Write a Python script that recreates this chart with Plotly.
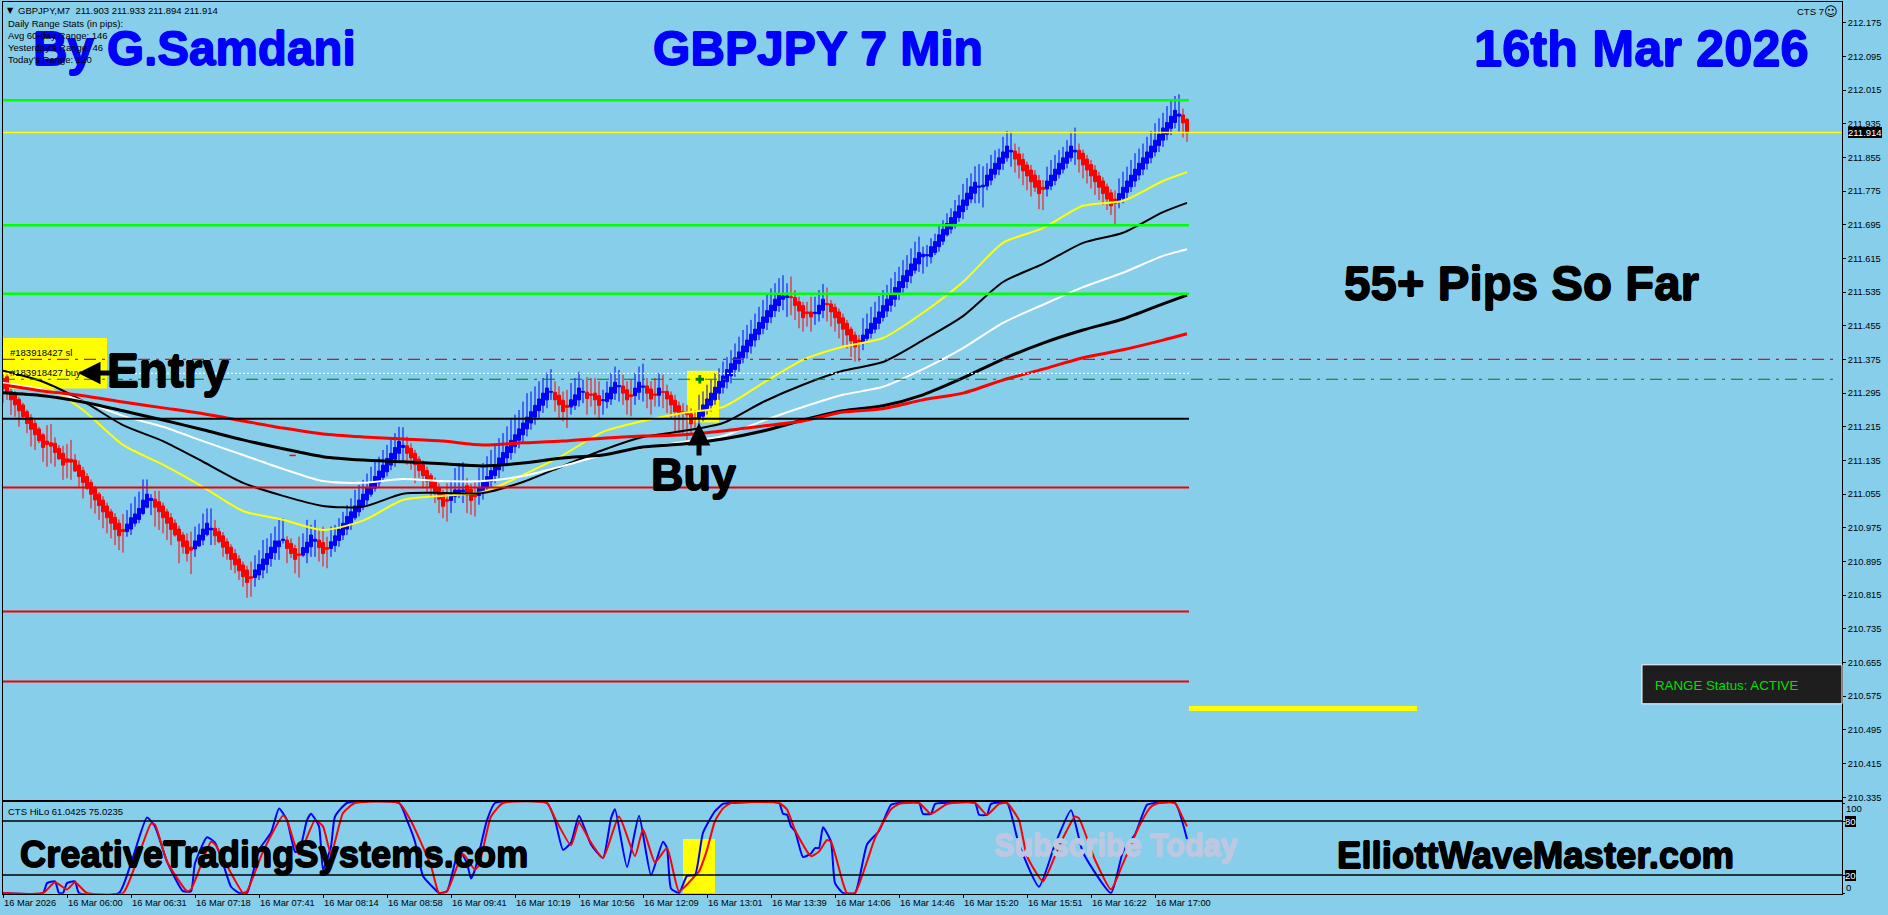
import plotly.graph_objects as go

W, H = 1888, 915

bar_open = [
    211.330, 211.334, 211.299, 211.295, 211.280, 211.267, 211.251, 211.237, 211.223, 211.210,
    211.196, 211.181, 211.177, 211.176, 211.164, 211.152, 211.139, 211.138, 211.136, 211.124,
    211.111, 211.097, 211.083, 211.069, 211.055, 211.041, 211.027, 211.013, 211.000, 210.986,
    210.971, 210.966, 210.972, 210.986, 210.995, 211.009, 211.024, 211.040, 211.043, 211.037,
    211.027, 211.013, 210.999, 210.986, 210.972, 210.958, 210.944, 210.929, 210.925, 210.932,
    210.946, 210.959, 210.970, 210.974, 210.966, 210.956, 210.942, 210.929, 210.914, 210.901,
    210.887, 210.875, 210.859, 210.857, 210.863, 210.875, 210.888, 210.902, 210.916, 210.930,
    210.945, 210.946, 210.938, 210.926, 210.913, 210.910, 210.916, 210.930, 210.943, 210.946,
    210.940, 210.928, 210.926, 210.933, 210.945, 210.958, 210.972, 210.986, 210.999, 211.013,
    211.027, 211.041, 211.055, 211.069, 211.082, 211.095, 211.108, 211.124, 211.138, 211.152,
    211.166, 211.170, 211.164, 211.152, 211.138, 211.125, 211.111, 211.099, 211.085, 211.071,
    211.057, 211.042, 211.040, 211.050, 211.053, 211.061, 211.075, 211.067, 211.055, 211.052,
    211.059, 211.072, 211.085, 211.099, 211.113, 211.127, 211.141, 211.154, 211.168, 211.183,
    211.196, 211.210, 211.224, 211.238, 211.253, 211.266, 211.279, 211.297, 211.297, 211.290,
    211.278, 211.266, 211.262, 211.266, 211.279, 211.297, 211.297, 211.293, 211.295, 211.289,
    211.277, 211.275, 211.281, 211.295, 211.310, 211.312, 211.303, 211.291, 211.289, 211.297,
    211.309, 211.312, 211.305, 211.293, 211.290, 211.299, 211.299, 211.290, 211.278, 211.265,
    211.251, 211.251, 211.246, 211.237, 211.236, 211.240, 211.254, 211.266, 211.279, 211.295,
    211.309, 211.322, 211.336, 211.351, 211.365, 211.379, 211.393, 211.407, 211.421, 211.435,
    211.449, 211.463, 211.476, 211.491, 211.503, 211.518, 211.522, 211.524, 211.522, 211.512,
    211.503, 211.488, 211.488, 211.484, 211.483, 211.492, 211.508, 211.507, 211.499, 211.488,
    211.474, 211.461, 211.447, 211.433, 211.421, 211.415, 211.425, 211.437, 211.447, 211.461,
    211.475, 211.490, 211.504, 211.518, 211.532, 211.546, 211.560, 211.574, 211.587, 211.602,
    211.619, 211.621, 211.619, 211.629, 211.643, 211.656, 211.671, 211.685, 211.698, 211.712,
    211.726, 211.741, 211.756, 211.770, 211.784, 211.785, 211.787, 211.801, 211.815, 211.827,
    211.841, 211.854, 211.868, 211.870, 211.863, 211.850, 211.837, 211.825, 211.813, 211.800,
    211.784, 211.780, 211.787, 211.800, 211.815, 211.827, 211.841, 211.854, 211.868, 211.872,
    211.865, 211.851, 211.838, 211.825, 211.811, 211.799, 211.785, 211.771, 211.756, 211.751,
    211.758, 211.772, 211.785, 211.799, 211.813, 211.827, 211.841, 211.854, 211.868, 211.883,
    211.896, 211.910, 211.924, 211.938, 211.953, 211.956, 211.945,
]
bar_close = [
    211.305, 211.295, 211.279, 211.267, 211.253, 211.239, 211.223, 211.209, 211.196, 211.182,
    211.166, 211.173, 211.169, 211.154, 211.139, 211.124, 211.131, 211.131, 211.110, 211.097,
    211.083, 211.069, 211.055, 211.041, 211.028, 211.013, 210.999, 210.986, 210.971, 210.956,
    210.966, 210.984, 210.999, 211.008, 211.021, 211.041, 211.055, 211.045, 211.024, 211.013,
    210.999, 210.986, 210.971, 210.958, 210.944, 210.930, 210.914, 210.922, 210.944, 210.958,
    210.972, 210.986, 210.974, 210.956, 210.942, 210.929, 210.914, 210.900, 210.887, 210.873,
    210.859, 210.845, 210.855, 210.875, 210.888, 210.901, 210.914, 210.929, 210.944, 210.944,
    210.948, 210.926, 210.914, 210.900, 210.910, 210.928, 210.941, 210.958, 210.948, 210.928,
    210.914, 210.924, 210.942, 210.956, 210.971, 210.986, 211.002, 211.013, 211.027, 211.041,
    211.055, 211.069, 211.082, 211.097, 211.110, 211.124, 211.140, 211.152, 211.166, 211.180,
    211.171, 211.152, 211.141, 211.125, 211.111, 211.099, 211.085, 211.071, 211.057, 211.043,
    211.026, 211.038, 211.053, 211.065, 211.065, 211.065, 211.053, 211.040, 211.049, 211.069,
    211.083, 211.097, 211.111, 211.125, 211.141, 211.154, 211.168, 211.183, 211.196, 211.210,
    211.224, 211.238, 211.251, 211.266, 211.281, 211.295, 211.307, 211.299, 211.279, 211.267,
    211.251, 211.261, 211.279, 211.291, 211.307, 211.299, 211.282, 211.290, 211.279, 211.266,
    211.279, 211.295, 211.309, 211.321, 211.313, 211.295, 211.279, 211.287, 211.307, 211.321,
    211.312, 211.295, 211.281, 211.290, 211.307, 211.297, 211.281, 211.267, 211.251, 211.249,
    211.248, 211.244, 211.222, 211.234, 211.253, 211.267, 211.281, 211.295, 211.309, 211.323,
    211.336, 211.351, 211.365, 211.379, 211.393, 211.407, 211.421, 211.435, 211.447, 211.463,
    211.476, 211.491, 211.504, 211.518, 211.530, 211.526, 211.526, 211.522, 211.503, 211.490,
    211.474, 211.484, 211.476, 211.487, 211.504, 211.518, 211.505, 211.488, 211.474, 211.461,
    211.447, 211.433, 211.419, 211.405, 211.416, 211.433, 211.447, 211.461, 211.474, 211.488,
    211.503, 211.518, 211.532, 211.546, 211.560, 211.574, 211.587, 211.602, 211.615, 211.629,
    211.625, 211.624, 211.643, 211.655, 211.671, 211.684, 211.698, 211.712, 211.726, 211.740,
    211.754, 211.770, 211.785, 211.796, 211.787, 211.789, 211.813, 211.827, 211.841, 211.854,
    211.868, 211.882, 211.872, 211.851, 211.837, 211.823, 211.811, 211.797, 211.784, 211.769,
    211.779, 211.799, 211.813, 211.827, 211.841, 211.854, 211.868, 211.882, 211.872, 211.851,
    211.837, 211.825, 211.811, 211.797, 211.784, 211.769, 211.756, 211.740, 211.746, 211.769,
    211.784, 211.799, 211.813, 211.827, 211.841, 211.854, 211.868, 211.882, 211.896, 211.910,
    211.925, 211.938, 211.953, 211.967, 211.958, 211.937, 211.914,
]
bar_high = [
    211.340, 211.340, 211.305, 211.300, 211.285, 211.272, 211.256, 211.245, 211.232, 211.215,
    211.200, 211.219, 211.222, 211.190, 211.172, 211.170, 211.174, 211.184, 211.150, 211.135,
    211.120, 211.105, 211.090, 211.075, 211.060, 211.050, 211.035, 211.020, 211.010, 210.995,
    211.008, 211.017, 211.033, 211.049, 211.061, 211.090, 211.090, 211.055, 211.063, 211.063,
    211.035, 211.020, 211.010, 210.995, 210.980, 210.965, 210.962, 210.966, 210.978, 210.985,
    211.009, 211.021, 211.021, 210.994, 210.975, 210.965, 210.950, 210.936, 210.925, 210.910,
    210.895, 210.885, 210.895, 210.910, 210.922, 210.946, 210.950, 210.962, 210.978, 210.998,
    210.998, 210.955, 210.950, 210.935, 210.954, 210.962, 210.994, 210.982, 210.994, 210.970,
    210.978, 210.954, 210.978, 210.982, 210.998, 211.013, 211.029, 211.045, 211.065, 211.077,
    211.089, 211.104, 211.120, 211.136, 211.144, 211.160, 211.172, 211.188, 211.200, 211.215,
    211.214, 211.192, 211.176, 211.160, 211.145, 211.135, 211.120, 211.105, 211.095, 211.080,
    211.065, 211.081, 211.089, 211.117, 211.129, 211.131, 211.093, 211.080, 211.085, 211.117,
    211.129, 211.145, 211.160, 211.172, 211.188, 211.200, 211.216, 211.232, 211.244, 211.255,
    211.275, 211.295, 211.299, 211.311, 211.323, 211.331, 211.344, 211.352, 211.323, 211.311,
    211.299, 211.303, 211.319, 211.331, 211.346, 211.327, 211.333, 211.331, 211.331, 211.323,
    211.303, 211.323, 211.343, 211.358, 211.350, 211.339, 211.323, 211.327, 211.343, 211.358,
    211.365, 211.331, 211.323, 211.331, 211.343, 211.339, 211.315, 211.299, 211.291, 211.275,
    211.271, 211.267, 211.259, 211.255, 211.291, 211.299, 211.315, 211.327, 211.343, 211.354,
    211.370, 211.381, 211.397, 211.413, 211.429, 211.445, 211.457, 211.469, 211.484, 211.500,
    211.516, 211.528, 211.544, 211.556, 211.568, 211.575, 211.556, 211.572, 211.540, 211.524,
    211.512, 211.512, 211.524, 211.524, 211.540, 211.554, 211.546, 211.516, 211.508, 211.496,
    211.484, 211.469, 211.453, 211.441, 211.433, 211.473, 211.484, 211.500, 211.512, 211.526,
    211.540, 211.552, 211.568, 211.583, 211.595, 211.611, 211.623, 211.639, 211.655, 211.667,
    211.643, 211.647, 211.663, 211.674, 211.694, 211.706, 211.722, 211.734, 211.754, 211.766,
    211.792, 211.806, 211.817, 211.834, 211.839, 211.834, 211.841, 211.861, 211.872, 211.876,
    211.904, 211.918, 211.916, 211.888, 211.880, 211.865, 211.845, 211.837, 211.825, 211.813,
    211.801, 211.833, 211.849, 211.861, 211.872, 211.880, 211.896, 211.916, 211.926, 211.888,
    211.874, 211.861, 211.849, 211.837, 211.821, 211.808, 211.793, 211.779, 211.777, 211.805,
    211.821, 211.833, 211.849, 211.865, 211.876, 211.888, 211.904, 211.918, 211.936, 211.948,
    211.961, 211.977, 211.991, 212.001, 212.005, 211.971, 211.949,
]
bar_low = [
    211.272, 211.279, 211.243, 211.239, 211.215, 211.231, 211.200, 211.168, 211.160, 211.176,
    211.132, 211.120, 211.128, 211.120, 211.136, 211.089, 211.093, 211.089, 211.108, 211.069,
    211.045, 211.065, 211.021, 211.009, 210.994, 210.974, 210.962, 210.950, 210.934, 210.922,
    210.916, 210.954, 210.958, 210.978, 210.986, 211.005, 211.021, 211.005, 210.978, 210.970,
    210.962, 210.946, 210.934, 210.954, 210.891, 210.914, 210.895, 210.865, 210.906, 210.930,
    210.934, 210.955, 210.934, 210.934, 210.938, 210.906, 210.899, 210.875, 210.867, 210.851,
    210.835, 210.809, 210.811, 210.835, 210.851, 210.855, 210.867, 210.883, 210.899, 210.899,
    210.938, 210.891, 210.903, 210.867, 210.857, 210.906, 210.891, 210.906, 210.906, 210.895,
    210.883, 210.879, 210.906, 210.918, 210.930, 210.946, 210.958, 210.970, 210.994, 211.002,
    211.017, 211.029, 211.049, 211.061, 211.069, 211.085, 211.097, 211.112, 211.120, 211.136,
    211.133, 211.125, 211.113, 211.081, 211.093, 211.069, 211.057, 211.046, 211.034, 211.010,
    210.998, 210.990, 211.010, 211.034, 211.046, 211.034, 211.010, 211.006, 211.002, 211.030,
    211.042, 211.057, 211.065, 211.081, 211.093, 211.109, 211.121, 211.137, 211.152, 211.164,
    211.176, 211.192, 211.208, 211.220, 211.236, 211.248, 211.259, 211.279, 211.251, 211.232,
    211.228, 211.212, 211.244, 211.255, 211.263, 211.271, 211.244, 211.263, 211.244, 211.232,
    211.244, 211.259, 211.267, 211.279, 211.275, 211.267, 211.244, 211.240, 211.267, 211.279,
    211.275, 211.259, 211.244, 211.263, 211.263, 211.259, 211.248, 211.236, 211.204, 211.200,
    211.200, 211.176, 211.200, 211.208, 211.212, 211.228, 211.244, 211.251, 211.267, 211.279,
    211.294, 211.306, 211.318, 211.334, 211.346, 211.366, 211.377, 211.389, 211.405, 211.421,
    211.435, 211.445, 211.461, 211.476, 211.488, 211.492, 211.476, 211.480, 211.469, 211.449,
    211.441, 211.453, 211.441, 211.457, 211.465, 211.473, 211.465, 211.453, 211.441, 211.425,
    211.409, 211.401, 211.381, 211.370, 211.370, 211.397, 211.413, 211.425, 211.437, 211.447,
    211.465, 211.476, 211.488, 211.500, 211.516, 211.528, 211.544, 211.556, 211.579, 211.583,
    211.579, 211.595, 211.603, 211.623, 211.631, 211.647, 211.667, 211.674, 211.686, 211.702,
    211.708, 211.730, 211.746, 211.746, 211.746, 211.736, 211.777, 211.789, 211.805, 211.813,
    211.825, 211.845, 211.833, 211.819, 211.805, 211.789, 211.777, 211.762, 211.773, 211.732,
    211.730, 211.762, 211.777, 211.789, 211.805, 211.817, 211.829, 211.845, 211.837, 211.819,
    211.805, 211.793, 211.781, 211.766, 211.754, 211.742, 211.730, 211.718, 211.697, 211.734,
    211.746, 211.758, 211.773, 211.785, 211.801, 211.813, 211.826, 211.841, 211.857, 211.868,
    211.880, 211.896, 211.908, 211.924, 211.916, 211.902, 211.892,
]

# moving averages, read every 10 bars
ma_index = [0, 10, 20, 30, 40, 50, 60, 70, 80, 90, 100, 110, 120, 130, 140, 150, 160, 170, 180, 190,
            200, 210, 220, 230, 240, 250, 260, 270, 280, 290, 296]
ma_yellow = [211.345, 211.315, 211.255, 211.172, 211.125, 211.072, 211.015, 210.994, 210.970, 210.992,
             211.041, 211.051, 211.060, 211.101, 211.148, 211.203, 211.229, 211.248, 211.262, 211.319,
             211.374, 211.405, 211.426, 211.486, 211.559, 211.652, 211.687, 211.740, 211.752, 211.799, 211.820]
ma_black_thin = [211.348, 211.322, 211.276, 211.219, 211.181, 211.132, 211.082, 211.051, 211.027, 211.025,
                 211.056, 211.058, 211.058, 211.084, 211.122, 211.160, 211.191, 211.205, 211.224, 211.274,
                 211.315, 211.348, 211.369, 211.421, 211.478, 211.559, 211.602, 211.652, 211.676, 211.725, 211.747]
ma_white = [211.319, 211.303, 211.276, 211.241, 211.215, 211.181, 211.148, 211.115, 211.086, 211.082,
            211.091, 211.086, 211.086, 211.098, 211.122, 211.148, 211.165, 211.179, 211.193, 211.229,
            211.262, 211.291, 211.310, 211.352, 211.402, 211.462, 211.505, 211.547, 211.581, 211.621, 211.637]
ma_black_thick = [211.296, 211.289, 211.274, 211.253, 211.231, 211.208, 211.184, 211.163, 211.144, 211.136,
                  211.132, 211.127, 211.122, 211.129, 211.141, 211.148, 211.167, 211.174, 211.186, 211.205,
                  211.231, 211.253, 211.265, 211.291, 211.331, 211.376, 211.414, 211.445, 211.471, 211.507, 211.528]
ma_red = [211.315, 211.300, 211.289, 211.274, 211.260, 211.246, 211.229, 211.212, 211.198, 211.191,
          211.186, 211.181, 211.172, 211.177, 211.181, 211.188, 211.193, 211.196, 211.205, 211.217,
          211.229, 211.250, 211.258, 211.279, 211.295, 211.326, 211.352, 211.379, 211.398, 211.421, 211.436]

# CTS HiLo oscillator
hilo_blue_x = [0, 10, 11, 13, 14, 15, 16, 18, 19, 29, 32, 36, 38, 41, 45, 47, 48, 51, 53, 55, 57, 59, 61, 64, 67,
               69, 71, 73, 74, 76, 77, 79, 80, 82, 83, 86, 99, 101, 103, 105, 108, 109, 111, 114, 116, 117, 118,
               121, 123, 136, 138, 140, 142, 144, 147, 150, 152, 153, 156, 159, 162, 165, 166, 167, 169, 171, 173,
               175, 178, 180, 182, 194, 195, 196, 197, 198, 200, 202, 203, 204, 205, 207, 208, 210, 213, 216, 219,
               222, 224, 229, 230, 232, 233, 235, 243, 244, 246, 247, 251, 254, 259, 263, 267, 270, 277, 280, 283,
               286, 288, 293, 296]
hilo_blue = [0, 0, 11, 13, 0, 0, 11, 13, 0, 0, 33, 84, 74, 35, 2, 2, 33, 62, 56, 33, 7, 0, 0, 48, 67,
             94, 81, 46, 46, 81, 88, 74, 26, 52, 85, 100, 100, 81, 57, 19, 4, 0, 2, 48, 33, 16, 26,
             81, 100, 100, 81, 48, 56, 86, 54, 39, 83, 93, 29, 86, 20, 57, 50, 5, 0, 19, 20,
             67, 91, 99, 100, 100, 88, 87, 74, 69, 40, 44, 50, 50, 73, 57, 11, 0, 0, 54, 69,
             98, 100, 100, 88, 88, 99, 100, 100, 87, 87, 99, 100, 54, 7, 54, 92, 45, 0, 46, 65,
             98, 100, 100, 60]
hilo_red_x = [0, 10, 13, 16, 18, 21, 30, 33, 37, 38, 41, 46, 47, 52, 53, 60, 61, 65, 70, 71, 74, 78, 80, 82, 85,
              88, 99, 102, 107, 109, 111, 115, 118, 119, 122, 125, 136, 138, 142, 144, 147, 150, 154, 158, 160,
              163, 166, 169, 173, 174, 176, 178, 180, 182, 194, 196, 198, 202, 204, 206, 207, 210, 211, 213, 216,
              218, 222, 224, 229, 232, 236, 243, 246, 249, 251, 254, 256, 260, 264, 268, 269, 273, 277, 280, 284,
              287, 289, 293, 295, 296]
hilo_red = [0, 0, 12, 4, 12, 0, 0, 30, 77, 76, 35, 2, 4, 57, 54, 0, 2, 46, 86, 81, 43, 81, 74, 43, 89,
            100, 100, 80, 30, 0, 2, 43, 26, 31, 85, 100, 100, 83, 53, 78, 56, 39, 85, 41, 71,
            34, 50, 2, 19, 24, 48, 80, 94, 100, 100, 93, 70, 41, 46, 59, 57, 11, 0, 0, 35,
            61, 93, 99, 100, 88, 99, 100, 87, 99, 100, 81, 41, 13, 52, 85, 83, 37, 4, 33, 74,
            96, 100, 100, 83, 74]

# horizontal levels
green_levels = [211.991, 211.694, 211.531]
red_levels = [211.071, 210.776, 210.610]
black_level = 211.234
last_price = 211.914
sl_level = 211.375
buy_level = 211.328
white_level = 211.342
yellow_bar_level = 210.546
small_dash_level = 211.147

price_ticks = [212.175, 212.095, 212.015, 211.935, 211.855, 211.775, 211.695, 211.615, 211.535, 211.455,
               211.375, 211.295, 211.215, 211.135, 211.055, 210.975, 210.895, 210.815, 210.735, 210.655,
               210.575, 210.495, 210.415, 210.335]
time_ticks = list(range(0, 289, 16))
time_labels = ["16 Mar 2026", "16 Mar 06:00", "16 Mar 06:31", "16 Mar 07:18", "16 Mar 07:41", "16 Mar 08:14",
               "16 Mar 08:58", "16 Mar 09:41", "16 Mar 10:19", "16 Mar 10:56", "16 Mar 12:09", "16 Mar 13:01",
               "16 Mar 13:39", "16 Mar 14:06", "16 Mar 14:46", "16 Mar 15:20", "16 Mar 15:51", "16 Mar 16:22",
               "16 Mar 17:00"]
hilo_ticks = [0, 20, 80, 100]

SKY = "#87CEEB"
SMALL_FONT = "Liberation Sans"
SMALL = 9.5
LAST_BAR = len(bar_open) - 1
bar_index = list(range(len(bar_open)))


def sx(px):
    return px / W


def sy(px):
    # pictures came out ~3px short at the bottom, stretch a bit
    return 1 - px * 1.003 / H


def level_line(x0, x1, y, color, width, dash="solid"):
    return go.Scatter(x=[x0, x1], y=[y, y], mode="lines", line=dict(color=color, width=width, dash=dash),
                      hoverinfo="skip", xaxis="x", yaxis="y")


fig = go.Figure()

for values, color, width in [(ma_yellow, "#FFFF00", 2), (ma_black_thin, "#000000", 2), (ma_white, "#FFFFFF", 2),
                             (ma_black_thick, "#000000", 3), (ma_red, "#FF0000", 3)]:
    fig.add_trace(go.Scatter(x=ma_index, y=values, mode="lines",
                             line=dict(color=color, width=width, shape="spline", smoothing=0.7),
                             hoverinfo="skip", xaxis="x", yaxis="y"))

fig.add_trace(go.Candlestick(x=bar_index, open=bar_open, high=bar_high, low=bar_low, close=bar_close,
                             increasing=dict(line=dict(color="#0000FF", width=1), fillcolor="#0000FF"),
                             decreasing=dict(line=dict(color="#FF0000", width=1), fillcolor="#FF0000"),
                             whiskerwidth=0, hoverinfo="skip", xaxis="x", yaxis="y"))

for level in green_levels:
    fig.add_trace(level_line(0, LAST_BAR + 0.5, level, "#00FF00", 2.5))
for level in red_levels:
    fig.add_trace(level_line(0, LAST_BAR + 0.5, level, "#F00000", 2))
fig.add_trace(level_line(0, LAST_BAR + 0.5, black_level, "#000000", 2))
fig.add_trace(level_line(0, 460, last_price, "#FFFF00", 1.5))
fig.add_trace(level_line(0, 458.5, sl_level, "#E01010", 1.2, "12px,6px,3px,6px"))
fig.add_trace(level_line(0, 458.5, buy_level, "#008000", 1.2, "12px,6px,3px,6px"))
fig.add_trace(level_line(0, LAST_BAR + 0.5, white_level, "#FFFFFF", 1.2, "2px,2px"))
fig.add_trace(level_line(71.6, 73.2, small_dash_level, "#FF0000", 1.5))
fig.add_trace(go.Scatter(x=[LAST_BAR + 0.5, 353.5], y=[yellow_bar_level, yellow_bar_level], mode="lines",
                         line=dict(color="#FFFF00", width=5), hoverinfo="skip", xaxis="x", yaxis="y"))
fig.add_trace(go.Scatter(x=[174.2], y=[buy_level], mode="markers",
                         marker=dict(symbol="cross", size=7, color="#008000"),
                         hoverinfo="skip", xaxis="x", yaxis="y"))

fig.add_trace(go.Scatter(x=hilo_blue_x, y=hilo_blue, mode="lines",
                         line=dict(color="#0000FF", width=2, shape="spline", smoothing=0.5),
                         hoverinfo="skip", xaxis="x2", yaxis="y2"))
fig.add_trace(go.Scatter(x=hilo_red_x, y=hilo_red, mode="lines",
                         line=dict(color="#FF0000", width=2, shape="spline", smoothing=0.5),
                         hoverinfo="skip", xaxis="x2", yaxis="y2"))
for level in [80, 20]:
    fig.add_trace(go.Scatter(x=[0, 459.75], y=[level, level], mode="lines", line=dict(color="#000000", width=1.5),
                             hoverinfo="skip", xaxis="x2", yaxis="y2"))

shapes = [
    dict(type="rect", xref="x", yref="y", x0=0, x1=26, y0=211.306, y1=211.426,
         fillcolor="#FFFF00", line_width=0, layer="below"),
    dict(type="rect", xref="x", yref="y", x0=171, x1=179, y0=211.225, y1=211.348,
         fillcolor="#FFFF00", line_width=0, layer="below"),
    dict(type="rect", xref="x2", yref="y2", x0=170, x1=178, y0=0, y1=60,
         fillcolor="#FFFF00", line_width=0, layer="below"),
    dict(type="rect", xref="paper", yref="paper", x0=sx(1642), x1=sx(1842), y0=sy(704), y1=sy(665),
         fillcolor="#1E1E1E", line=dict(color="#FFFFFF", width=1), layer="above"),
]

annotations = []


def label(text, x, y, size, color="#000000", heavy=False, anchor="left", bg=None, family=SMALL_FONT):
    font = dict(family=family, size=size, color=color)
    if heavy:
        text = f"<b>{text}</b>"
        s = "0.7px"
        font["shadow"] = f"{s} 0 0 {color}, -{s} 0 0 {color}, 0 {s} 0 {color}, 0 -{s} 0 {color}"
    annotations.append(dict(text=text, xref="paper", yref="paper", x=sx(x), y=sy(y), xanchor=anchor,
                            yanchor="middle", showarrow=False, font=font, bgcolor=bg, borderpad=0, borderwidth=0))


def block_arrow(tip_x, tip_y, tail_dx, tail_dy):
    annotations.append(dict(text="", xref="paper", yref="paper", x=sx(tip_x), y=sy(tip_y), ax=tail_dx, ay=tail_dy,
                            axref="pixel", ayref="pixel", showarrow=True, arrowhead=2, arrowsize=0.9,
                            arrowwidth=5, arrowcolor="#000000"))


# big captions
label("By G.Samdani", 33, 49, 47.6, "#0000FF", True)
label("GBPJPY 7 Min", 653, 49, 48, "#0000FF", True)
label("16th Mar 2026", 1474, 48.5, 50.6, "#0000FF", True)
label("55+ Pips So Far", 1344, 284, 47.5, "#000000", True)
label("Entry", 107, 371, 47.7, "#000000", True)
block_arrow(78, 373, 34, 0)
label("Buy", 651, 475, 45, "#000000", True)
block_arrow(699, 423, 0, 34)
label("CreativeTradingSystems.com", 20, 855, 36.3, "#000000", True)
label("ElliottWaveMaster.com", 1337, 856, 36.6, "#000000", True)
label("Subscribe Today", 994, 846, 30.5, "#BCC8E2", True)

# terminal small text
label("▼", 10, 11, 8, anchor="center", family="DejaVu Sans")
label("GBPJPY,M7  211.903 211.933 211.894 211.914", 18, 11, SMALL)
label("Daily Range Stats (in pips):", 7.5, 24, SMALL)
label("Avg 60-day Range: 146", 7.5, 36, SMALL)
label("Yesterday's Range: 46", 7.5, 48, SMALL)
label("Today's Range: 120", 7.5, 60, SMALL)
label("CTS 7", 1797, 12, SMALL)
label("☺", 1831, 12, 13, anchor="center", family="DejaVu Sans")
label("#183918427 sl", 9.5, 353, SMALL)
label("#183918427 buy", 9.5, 373, SMALL)
label("CTS HiLo 61.0425 75.0235", 7.5, 812, SMALL)
label("RANGE Status: ACTIVE", 1655, 686, 13.3, "#00E000")

# price tag and oscillator scale
label("211.914", 1848, 132.6, SMALL, "#FFFFFF", bg="#000000")
label("100", 1846, 809, SMALL)
label("80", 1845, 821.5, SMALL, "#FFFFFF", bg="#000000")
label("20", 1845, 875.5, SMALL, "#FFFFFF", bg="#000000")
label("0", 1846, 887.7, SMALL)

for tick, text in zip(time_ticks, time_labels):
    annotations.append(dict(text=text, xref="x2", yref="paper", x=tick, y=sy(903), xanchor="left", yanchor="middle",
                            showarrow=False, font=dict(family=SMALL_FONT, size=9.3, color="#000000"),
                            borderpad=0))

fig.update_layout(
    width=W, height=H, margin=dict(l=0, r=0, t=0, b=0),
    paper_bgcolor=SKY, plot_bgcolor=SKY, showlegend=False, hovermode=False, boxgap=0.25, boxgroupgap=0,
    shapes=shapes, annotations=annotations,
    xaxis=dict(domain=[sx(3), sx(1842)], range=[0, 459.75], anchor="y", showgrid=False, zeroline=False,
               showticklabels=False, ticks="", showline=True, mirror=True, linecolor="#000000", linewidth=1,
               rangeslider=dict(visible=False)),
    yaxis=dict(domain=[sy(800), sy(2.5)], range=[210.329, 212.223], anchor="x", side="right", showgrid=False,
               zeroline=False, tickmode="array", tickvals=price_ticks, ticktext=[f"{v:.3f}" for v in price_ticks],
               ticks="outside", ticklen=3, tickcolor="#000000", showline=True, mirror=True, linecolor="#000000",
               linewidth=1, tickfont=dict(family=SMALL_FONT, size=9.3, color="#000000")),
    xaxis2=dict(domain=[sx(3), sx(1842)], range=[0, 459.75], anchor="y2", showgrid=False, zeroline=False,
                tickmode="array", tickvals=time_ticks, showticklabels=False, ticks="outside", ticklen=3,
                tickcolor="#000000", showline=True, mirror=True, linecolor="#000000", linewidth=1),
    yaxis2=dict(domain=[sy(894), sy(802)], range=[-0.8, 101.4], anchor="x2", side="right", showgrid=False,
                zeroline=False, tickmode="array", tickvals=hilo_ticks, showticklabels=False, ticks="outside",
                ticklen=2, tickcolor="#000000", showline=True, mirror=True, linecolor="#000000", linewidth=1),
)

fig.write_html("out.html", config=dict(displayModeBar=False),
               post_script="document.body.style.margin='0';document.body.style.overflow='hidden';")
